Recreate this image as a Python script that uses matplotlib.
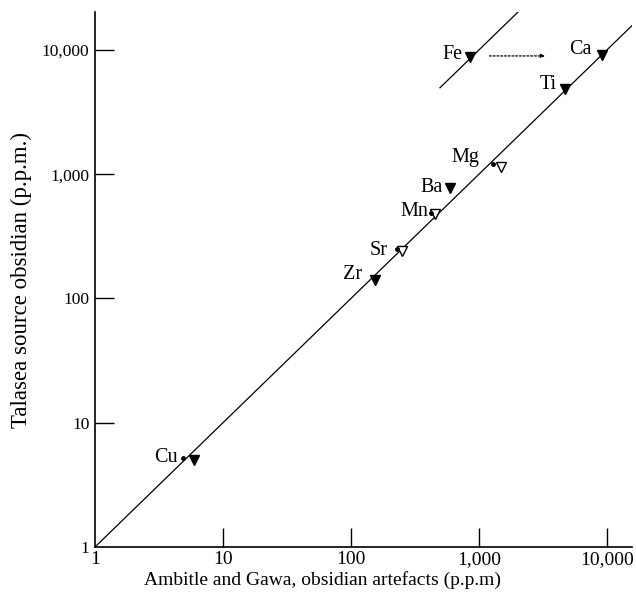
import numpy as np
from matplotlib import pyplot as plt

plt.rcParams['font.family'] = ['Liberation Serif', 'DejaVu Serif']

# Element concentrations (p.p.m.): x = Ambitle/Gawa artefacts, y = Talasea source
elements = ['Fe', 'Ca', 'Ti', 'Mg', 'Ba', 'Mn', 'Sr', 'Zr', 'Cu']
x_vals = [850, 9100, 4700, 1500, 595, 455, 250, 154, 5.9]
y_vals = [8800, 9100, 4850, 1150, 775, 480, 242, 141, 5.0]
filled = [True, True, True, False, True, False, False, True, True]

# small dots next to some of the markers
dot_x = [1280, 422, 229, 4.85]
dot_y = [1210, 488, 250, 5.2]

# label offsets (pixels) relative to marker
label_dx = [-7, -10, -8, -22, -7, -7, -14, -13, -16]
label_dy = [2, 6, 4, 9, 0, 2, 0, 5, 3]

# Fe shift arrow
arrow_x = [1150, 3450]
arrow_y = 8950

# reference lines
line_1to1 = [1, 15700]
fe_line_x = [496, 2020]

ticks = [1, 10, 100, 1000, 10000]
tick_labels = ['1', '10', '100', '1,000', '10,000']

fig = plt.figure(figsize=(6.36, 5.92), dpi=100)
ax = fig.add_axes([95/636, 45/592, 537/636, 535/592])
ax.set_xscale('log')
ax.set_yscale('log')
ax.set_xlim(1, 15700)
ax.set_ylim(1, 20200)

# y = x line and y = 10x line for Fe
ax.plot(line_1to1, line_1to1, color='k', lw=0.9)
ax.plot(fe_line_x, [10*v for v in fe_line_x], color='k', lw=0.9)

for el, xv, yv, f, dx, dy in zip(elements, x_vals, y_vals, filled, label_dx, label_dy):
    ax.plot(xv, yv, marker='v', ms=7, mec='k', mew=1,
            mfc='k' if f else 'white', ls='none')
    ax.annotate(el, (xv, yv), xytext=(dx, dy), textcoords='offset pixels',
                ha='right', va='center', fontsize=14.5)

ax.plot(dot_x, dot_y, 'o', color='k', ms=2.5, ls='none')

ax.annotate('', xy=(arrow_x[1], arrow_y), xytext=(arrow_x[0], arrow_y),
            arrowprops=dict(arrowstyle='-|>', linestyle=(0, (1.5, 1.5)),
                            color='k', lw=0.9, mutation_scale=6))

ax.spines['top'].set_visible(False)
ax.spines['right'].set_visible(False)
ax.spines['left'].set_linewidth(1.2)
ax.spines['bottom'].set_linewidth(1.2)

ax.set_xticks(ticks)
ax.set_xticklabels(tick_labels)
ax.set_yticks(ticks)
ax.set_yticklabels(tick_labels)
ax.minorticks_off()
ax.tick_params(direction='in', length=14, width=1, pad=4)
ax.tick_params(axis='x', labelsize=14, pad=3)
ax.tick_params(axis='y', labelsize=12.5)
ax.xaxis.get_major_ticks()[0].tick1line.set_visible(False)
ax.yaxis.get_major_ticks()[0].tick1line.set_visible(False)

ax.set_xlabel('Ambitle and Gawa, obsidian artefacts (p.p.m)', fontsize=14, labelpad=2, x=0.423)
ax.set_ylabel('Talasea source obsidian (p.p.m.)', fontsize=16.5, labelpad=7)

plt.savefig('out.png', dpi=100)
